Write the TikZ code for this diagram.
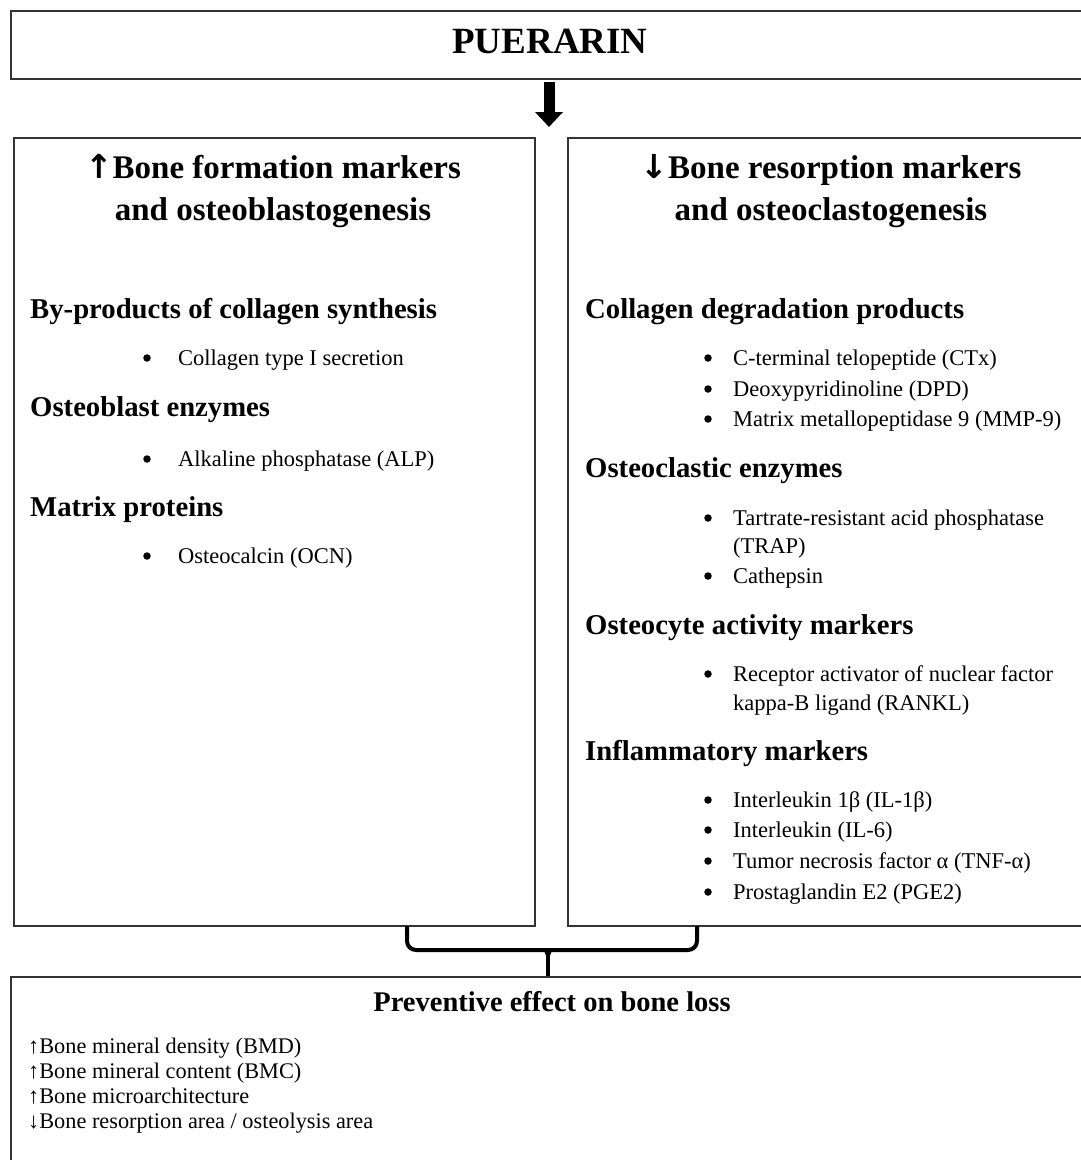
\documentclass[tikz,border=0pt]{standalone}
\usepackage{fontspec}
\setmainfont{Liberation Serif}
\newfontfamily\arrowfont{DejaVu Sans}
\usetikzlibrary{arrows.meta}
\definecolor{edge}{HTML}{333333}
\begin{document}
\begin{tikzpicture}[x=1pt,y=-1pt,
  frame/.style={draw=edge, line width=1.5pt, inner sep=0pt, anchor=north west},
  toptitle/.style={font=\fontsize{37}{44}\selectfont\bfseries, anchor=base, inner sep=0pt},
  hd/.style={font=\fontsize{33}{40}\selectfont\bfseries, anchor=base, inner sep=0pt},
  sub/.style={font=\fontsize{28.7}{34}\selectfont\bfseries, anchor=base west, inner sep=0pt},
  itm/.style={font=\fontsize{22.5}{27}\selectfont, anchor=base west, inner sep=0pt},
  bul/.style={circle, fill=black, inner sep=0pt, minimum size=7.5pt},
  btitle/.style={font=\fontsize{28.5}{34}\selectfont\bfseries, anchor=base, inner sep=0pt},
  bitm/.style={font=\fontsize{22.3}{26}\selectfont, anchor=base west, inner sep=0pt},
  brace/.style={line width=4pt, draw=black},
]
\useasboundingbox (0,0) rectangle (1081,1160);
\clip (0,0) rectangle (1081,1160);
\fill[white] (0,0) rectangle (1081,1160);

% boxes
\node[frame, minimum width=1084pt, minimum height=68pt] (top) at (10,10) {};
\node[frame, minimum width=521pt, minimum height=788pt] (lbox) at (13,137) {};
\node[frame, minimum width=527pt, minimum height=788pt] (rbox) at (567,137) {};
\node[frame, minimum width=1084pt, minimum height=260pt] (bbox) at (10,976) {};

% title
\node[toptitle] (puer) at (550,53) {PUERARIN};

% block arrow
\coordinate (aS) at (549,82);
\coordinate (aE) at (549,127);
\draw[line width=11pt, -{Triangle[width=27pt,length=15pt]}] (aS) -- (aE);

% left column
\node[hd] (lh1) at (273,178) {{\arrowfont\bfseries ↑}Bone formation markers};
\node[hd] (lh2) at (273,220) {and osteoblastogenesis};
\node[sub] (ls1) at (30,318) {By-products of collagen synthesis};
\node[bul] (lb1) at (147,358) {};
\node[itm] (li1) at (178,365) {Collagen type I secretion};
\node[sub] (ls2) at (30,416) {Osteoblast enzymes};
\node[bul] (lb2) at (147,459) {};
\node[itm] (li2) at (178,466) {Alkaline phosphatase (ALP)};
\node[sub] (ls3) at (30,516) {Matrix proteins};
\node[bul] (lb3) at (147,556) {};
\node[itm] (li3) at (178,563) {Osteocalcin (OCN)};

% right column
\node[hd] (rh1) at (831,178) {{\arrowfont\bfseries ↓}Bone resorption markers};
\node[hd] (rh2) at (831,220) {and osteoclastogenesis};
\node[sub] (rs1) at (585,318) {Collagen degradation products};
\node[bul] (rb1) at (708,358) {};
\node[itm] (ri1) at (733,365) {C-terminal telopeptide (CTx)};
\node[bul] (rb2) at (708,389) {};
\node[itm] (ri2) at (733,396) {Deoxypyridinoline (DPD)};
\node[bul] (rb3) at (708,419) {};
\node[itm] (ri3) at (733,426) {Matrix metallopeptidase 9 (MMP-9)};
\node[sub] (rs2) at (585,477) {Osteoclastic enzymes};
\node[bul] (rb4) at (708,518) {};
\node[itm] (ri4) at (733,525) {Tartrate-resistant acid phosphatase};
\node[itm] (ri4b) at (733,553) {(TRAP)};
\node[bul] (rb5) at (708,576) {};
\node[itm] (ri5) at (733,583) {Cathepsin};
\node[sub] (rs3) at (585,634) {Osteocyte activity markers};
\node[bul] (rb6) at (708,674) {};
\node[itm] (ri6) at (733,681) {Receptor activator of nuclear factor};
\node[itm] (ri6b) at (733,710) {kappa-B ligand (RANKL)};
\node[sub] (rs4) at (585,760) {Inflammatory markers};
\node[bul] (rb7) at (708,800) {};
\node[itm] (ri7) at (733,807) {Interleukin 1β (IL-1β)};
\node[bul] (rb8) at (708,830) {};
\node[itm] (ri8) at (733,837) {Interleukin (IL-6)};
\node[bul] (rb9) at (708,861) {};
\node[itm] (ri9) at (733,868) {Tumor necrosis factor α (TNF-α)};
\node[bul] (rb10) at (708,892) {};
\node[itm] (ri10) at (733,899) {Prostaglandin E2 (PGE2)};

% bracket
\coordinate (bl) at (407,926);
\coordinate (br) at (697,926);
\coordinate (bm) at (548,950);
\coordinate (bt) at (548,976);
\draw[brace, rounded corners=9pt] (bl) -- (407,950) -- (697,950) -- (br);
\draw[brace] (bm) -- (bt);
\fill (538,949) .. controls (545,950) and (546.5,953) .. (546.5,962) -- (549.5,962) .. controls (549.5,953) and (551,950) .. (558,949) -- cycle;

% bottom box
\node[btitle] (bt1) at (552,1011) {Preventive effect on bone loss};
\node[bitm] (bi1) at (28,1053) {↑Bone mineral density (BMD)};
\node[bitm] (bi2) at (28,1078) {↑Bone mineral content (BMC)};
\node[bitm] (bi3) at (28,1103) {↑Bone microarchitecture};
\node[bitm] (bi4) at (28,1128) {↓Bone resorption area / osteolysis area};
\end{tikzpicture}
\end{document}
